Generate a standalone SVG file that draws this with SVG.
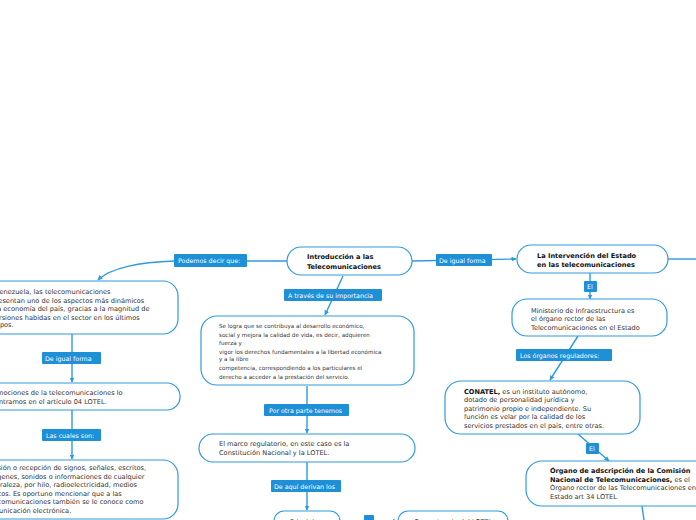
<svg xmlns="http://www.w3.org/2000/svg" width="696" height="520" viewBox="0 0 696 520">
<defs>
<marker id="ah" viewBox="0 0 10 10" refX="9" refY="5" markerWidth="5" markerHeight="5" orient="auto" markerUnits="userSpaceOnUse">
<path d="M0,0 L10,5 L0,10 z" fill="#2e9ae0"/>
</marker>
<style>
.n{fill:#fff;stroke:#2f9be0;stroke-width:1.2}
.c{fill:none;stroke:#2e9ae0;stroke-width:1.4}
.lb{fill:#1e90d8}
.lt{font-family:"DejaVu Sans",Verdana,sans-serif;font-size:6.3px;fill:#fff}
.t{font-family:"DejaVu Sans",Verdana,sans-serif;font-size:6.6px;fill:#333}
.ts{font-family:"DejaVu Sans",Verdana,sans-serif;font-size:5.6px;fill:#333}
.b{font-weight:bold;fill:#111}
</style>
</defs>
<rect width="696" height="520" fill="#fff"/>
<g id="connectors">
<path class="c" d="M287,261 L247,261"/>
<path class="c" d="M174,261 C140,262 110,268 98,280" marker-end="url(#ah)"/>
<path class="c" d="M72,334 L72,382" marker-end="url(#ah)"/>
<path class="c" d="M72,410 L72,459" marker-end="url(#ah)"/>
<path class="c" d="M343,276 L325,315" marker-end="url(#ah)"/>
<path class="c" d="M307,386 L307,433" marker-end="url(#ah)"/>
<path class="c" d="M307,462 L307,510" marker-end="url(#ah)"/>
<path class="c" d="M340,521 L397,521" marker-end="url(#ah)"/>
<path class="c" d="M412,261 L516,259" marker-end="url(#ah)"/>
<path class="c" d="M668,259 L696,259"/>
<path class="c" d="M590,273 L590,299" marker-end="url(#ah)"/>
<path class="c" d="M578,336 L550,380" marker-end="url(#ah)"/>
<path class="c" d="M578,434 L609,461" marker-end="url(#ah)"/>
<path class="c" d="M642,506 L644,520"/>
</g>
<g id="labels">
<rect class="lb" x="174" y="254" width="73" height="13" rx="1"/>
<text class="lt" x="178" y="263">Podemos decir que:</text>
<rect class="lb" x="42" y="352" width="59" height="12" rx="1"/>
<text class="lt" x="45" y="360.5">De igual forma</text>
<rect class="lb" x="42" y="429" width="59" height="12" rx="1"/>
<text class="lt" x="46" y="437.5">Las cuales son:</text>
<rect class="lb" x="284" y="289" width="98" height="12" rx="1"/>
<text class="lt" x="288" y="297.5">A través de su importancia</text>
<rect class="lb" x="264" y="404" width="85" height="12" rx="1"/>
<text class="lt" x="269" y="412.5">Por otra parte tenemos</text>
<rect class="lb" x="271" y="480" width="70" height="12" rx="1"/>
<text class="lt" x="274" y="488.5">De aquí derivan los</text>
<rect class="lb" x="364" y="515" width="10" height="10" rx="1"/>
<rect class="lb" x="436" y="254" width="56" height="12" rx="1"/>
<text class="lt" x="439" y="262.5">De igual forma</text>
<rect class="lb" x="584" y="281" width="13" height="11" rx="1"/>
<text class="lt" x="587" y="289">El</text>
<rect class="lb" x="516" y="349" width="96" height="12" rx="1"/>
<text class="lt" x="520" y="357.5">Los órganos reguladores:</text>
<rect class="lb" x="586" y="443" width="13" height="11" rx="1"/>
<text class="lt" x="589" y="451">El</text>
</g>
<g id="intro">
<rect class="n" x="287" y="247" width="125" height="28" rx="14"/>
<text class="t b" x="307" y="259">Introducción a las</text>
<text class="t b" x="307" y="268.5">Telecomunicaciones</text>
</g>
<g id="venezuela">
<rect class="n" x="-20" y="281" width="198" height="53" rx="15"/>
<text class="t" x="-15" y="294">En Venezuela, las telecomunicaciones</text>
<text class="t" x="-15" y="302.5">representan uno de los aspectos más dinámicos</text>
<text class="t" x="-15" y="311">de la economía del país, gracias a la magnitud de</text>
<text class="t" x="-15" y="319.5">inversiones habidas en el sector en los últimos</text>
<text class="t" x="-15" y="327">tiempos.</text>
</g>
<g id="nociones">
<rect class="n" x="-20" y="383" width="200" height="27" rx="13"/>
<text class="t" x="-14" y="395">Las nociones de la telecomunicaciones lo</text>
<text class="t" x="-17" y="404">encontramos en el artículo 04 LOTEL.</text>
</g>
<g id="emision">
<rect class="n" x="-20" y="460" width="198" height="59" rx="15"/>
<text class="t" x="-15" y="470">Emisión o recepción de signos, señales, escritos,</text>
<text class="t" x="-15" y="478.5">imágenes, sonidos o informaciones de cualquier</text>
<text class="t" x="-15" y="487">naturaleza, por hilo, radioelectricidad, medios</text>
<text class="t" x="-15" y="495.5">ópticos. Es oportuno mencionar que a las</text>
<text class="t" x="-15" y="504">telecomunicaciones también se le conoce como</text>
<text class="t" x="-15" y="512.5">comunicación electrónica.</text>
</g>
<g id="importancia">
<rect class="n" x="201" y="316" width="213" height="69" rx="16"/>
<text class="ts" x="219" y="327.5">Se logra que se contribuya al desarrollo económico,</text>
<text class="ts" x="219" y="336.5">social y mejora la calidad de vida, es decir, adquieren</text>
<text class="ts" x="219" y="344.5">fuerza y</text>
<text class="ts" x="219" y="353.5">vigor los derechos fundamentales a la libertad económica</text>
<text class="ts" x="219" y="361">y a la libre</text>
<text class="ts" x="219" y="370">competencia, correspondiendo a los particulares el</text>
<text class="ts" x="219" y="378.5">derecho a acceder a la prestación del servicio.</text>
</g>
<g id="marco">
<rect class="n" x="199" y="434" width="216" height="28" rx="14"/>
<text class="t" x="219" y="446">El marco regulatorio, en este caso es la</text>
<text class="t" x="219" y="455">Constitución Nacional y la LOTEL.</text>
</g>
<g id="principios">
<rect class="n" x="274" y="511" width="66" height="24" rx="10"/>
<text class="t" x="290" y="524">Principios</text>
</g>
<g id="competencia">
<rect class="n" x="398" y="511" width="110" height="24" rx="10"/>
<text class="t" x="414" y="524">Competencia del LOTEL</text>
</g>
<g id="intervencion">
<rect class="n" x="517" y="245" width="151" height="28" rx="14"/>
<text class="t b" x="537" y="257.5">La Intervención del Estado</text>
<text class="t b" x="537" y="266.5">en las telecomunicaciones</text>
</g>
<g id="ministerio">
<rect class="n" x="512" y="299" width="155" height="37" rx="15"/>
<text class="t" x="531" y="313">Ministerio de Infraestructura es</text>
<text class="t" x="531" y="321">el órgano rector de las</text>
<text class="t" x="531" y="329.5">Telecomunicaciones en el Estado</text>
</g>
<g id="conatel">
<rect class="n" x="445" y="381" width="195" height="53" rx="16"/>
<text class="t" x="464" y="394"><tspan class="b">CONATEL,</tspan> es un instituto autónomo,</text>
<text class="t" x="464" y="402">dotado de personalidad jurídica y</text>
<text class="t" x="464" y="410.5">patrimonio propio e independiente. Su</text>
<text class="t" x="464" y="419">función es velar por la calidad de los</text>
<text class="t" x="464" y="427.5">servicios prestados en el país, entre otras.</text>
</g>
<g id="organo">
<rect class="n" x="526" y="461" width="200" height="45" rx="16"/>
<text class="t b" x="550" y="473">Órgano de adscripción de la Comisión</text>
<text class="t" x="550" y="481.5"><tspan class="b">Nacional de Telecomunicaciones,</tspan> es el</text>
<text class="t" x="550" y="490">Órgano rector de las Telecomunicaciones en el</text>
<text class="t" x="550" y="499">Estado art 34 LOTEL</text>
</g>
</svg>
